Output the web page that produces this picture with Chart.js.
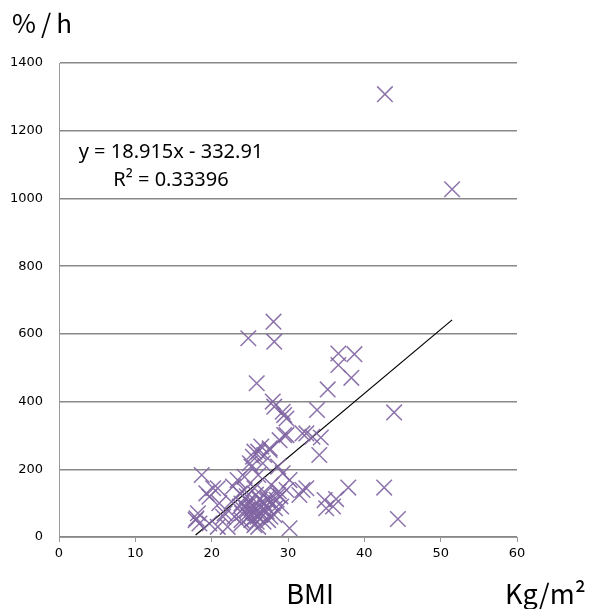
<!DOCTYPE html>
<html>
<head>
<meta charset="utf-8">
<script src="https://cdn.jsdelivr.net/npm/chart.js@4"></script>
<style>
  html, body { margin: 0; padding: 0; background: #fff; }
  canvas { display: block; }
</style>
</head>
<body>
<canvas id="bmi-chart" width="590" height="609"></canvas>
<script>
// BMI (kg/m2) vs %/h
const bmiValues = [
  42.7, 51.5, 28.1, 24.8, 28.2, 36.6, 38.7, 36.6, 38.3, 35.2, 25.9,
  28.0, 28.2, 29.3, 29.8, 33.8, 43.9, 32.4, 33.2, 34.3, 29.8, 28.9, 34.1,
  26.1, 26.9, 25.4, 27.6, 26.5, 25.2, 18.7, 29.3, 20.2, 31.9, 30.2,
  32.4, 37.9, 42.6, 34.8, 36.3, 35.0, 35.9, 44.4,
  19.3, 18.2, 18.4, 21.0, 21.5, 22.8, 23.7, 17.9,
  20.8, 19.7, 18.0, 21.7, 22.6, 23.4, 23.7, 20.8, 22.1, 19.7, 23.0, 23.9,
  29.5, 27.6, 25.6, 25.0, 26.7, 28.7, 24.3, 26.1, 24.3, 25.6, 27.8, 28.7,
  27.4, 29.1, 23.9, 24.7, 25.6, 26.5, 25.2, 26.1, 27.4, 28.2, 23.9, 27.1, 29.8,
  25.0, 25.4, 26.0, 26.3, 24.6, 25.8, 27.0, 28.0, 24.0, 26.8, 25.6,
  29.5, 31.9, 31.5, 30.2,
  24.9, 25.3, 25.7, 26.2, 26.6, 27.2, 27.7, 28.3, 24.8, 25.5, 26.4, 27.3,
  28.5, 25.9, 26.9, 24.4, 29.0, 28.8
];
const ratePerHour = [
  1308, 1027, 636, 587, 577, 542, 540, 508, 470, 436, 454,
  400, 385, 370, 350, 375, 368, 306, 296, 294, 301, 286, 242,
  252, 242, 237, 262, 267, 208, 183, 188, 144, 139, 26,
  144, 146, 146, 109, 112, 85, 90, 53,
  129, 70, 40, 100, 60, 149, 90, 50,
  144, 119, 55, 70, 104, 168, 129, 30, 30, 40, 60, 40,
  301, 257, 252, 218, 218, 208, 178, 183, 139, 144, 154, 124,
  109, 90, 99, 80, 90, 70, 50, 30, 50, 65, 50, 90, 139,
  100, 75, 60, 110, 120, 125, 130, 100, 70, 45, 35,
  360, 306, 124, 168,
  60, 85, 70, 95, 80, 75, 60, 85, 105, 55, 65, 115,
  110, 45, 100, 90, 120, 135
];
const xTicks = [0, 10, 20, 30, 40, 50, 60];
const yTicks = [0, 200, 400, 600, 800, 1000, 1200, 1400];

// linear trend line as printed on the chart
const trendSlope = 18.915;
const trendIntercept = -332.91;
const trendX = [Math.min(...bmiValues), Math.max(...bmiValues)];

const scatterPoints = bmiValues.map((x, i) => ({ x: x, y: ratePerHour[i] }));
const trendPoints = trendX.map(x => ({ x: x, y: trendSlope * x + trendIntercept }));

const labelsPlugin = {
  id: "labels",
  afterDraw(chart) {
    const ctx = chart.ctx;
    ctx.save();
    ctx.fillStyle = "#000";
    ctx.textBaseline = "middle";
    ctx.font = '26px "Noto Sans CJK JP"';
    ctx.textAlign = "left";
    ctx.letterSpacing = "5px";
    ctx.fillText("%/h", 12, 23);
    ctx.letterSpacing = "0px";
    ctx.font = '27px "Noto Sans CJK JP"';
    ctx.textAlign = "center";
    ctx.fillText("BMI", 310, 594);
    ctx.textAlign = "left";
    ctx.fillText("Kg/m²", 505, 594);
    ctx.font = '20px "Noto Sans"';
    ctx.textAlign = "center";
    ctx.fillText("y = 18.915x - 332.91", 171, 152);
    ctx.fillText("R² = 0.33396", 171, 180);
    ctx.restore();
  }
};

new Chart(document.getElementById("bmi-chart"), {
  data: {
    datasets: [
      {
        type: "scatter",
        data: scatterPoints,
        pointStyle: "crossRot",
        pointRadius: 11,
        pointBorderWidth: 1.5,
        borderColor: "rgba(128, 100, 162, 0.9)",
        backgroundColor: "rgba(128, 100, 162, 0.9)"
      },
      {
        type: "line",
        data: trendPoints,
        borderColor: "#000",
        borderWidth: 1.2,
        pointRadius: 0,
        fill: false
      }
    ]
  },
  options: {
    responsive: false,
    animation: false,
    layout: { padding: { left: 0, top: 63, right: 73, bottom: 42 } },
    plugins: {
      legend: { display: false },
      tooltip: { enabled: false }
    },
    scales: {
      x: {
        type: "linear",
        min: 0,
        max: 60,
        afterBuildTicks: s => { s.ticks = xTicks.map(v => ({ value: v })); },
        afterFit: s => { s.height = 30; },
        grid: { drawOnChartArea: false, color: "#999", tickLength: 5 },
        border: { color: "#999" },
        ticks: { color: "#000", font: { family: "DejaVu Sans", size: 13 }, padding: 4, callback: v => String(v) }
      },
      y: {
        min: 0,
        max: 1400,
        afterBuildTicks: s => { s.ticks = yTicks.map(v => ({ value: v })); },
        afterFit: s => { s.width = 59; },
        grid: { color: "#888", drawTicks: false, lineWidth: 1.5 },
        border: { color: "#999" },
        ticks: { color: "#000", font: { family: "DejaVu Sans", size: 13 }, padding: 16, callback: v => String(v) }
      }
    }
  },
  plugins: [labelsPlugin]
});
</script>
</body>
</html>
